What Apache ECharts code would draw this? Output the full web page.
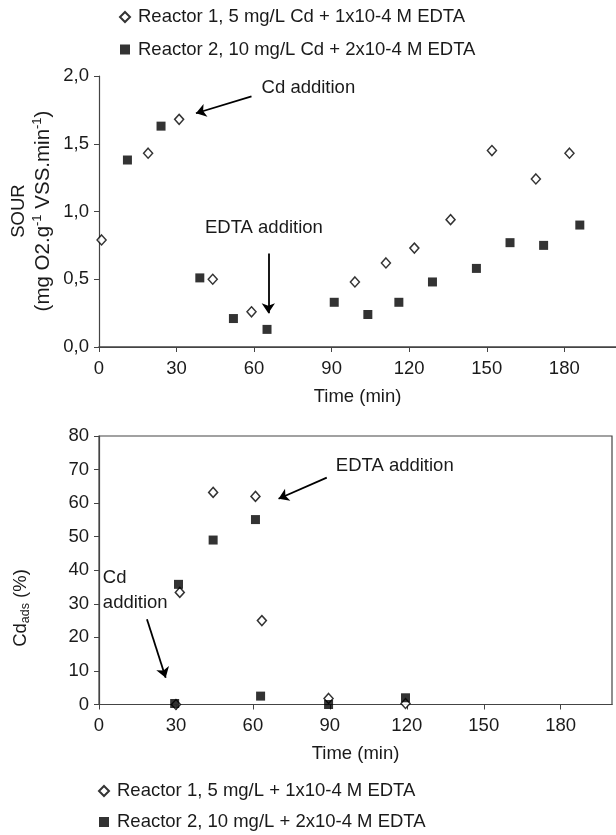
<!DOCTYPE html>
<html>
<head>
<meta charset="utf-8">
<script src="https://cdn.jsdelivr.net/npm/echarts@6/dist/echarts.min.js"></script>
<style>html,body{margin:0;padding:0;background:#fff}#c{width:616px;height:835px}</style>
</head>
<body>
<div id="c"></div>
<script>
// ---------- data ----------
const timeTicks = [0, 30, 60, 90, 120, 150, 180];
const sourTicks = [0, 0.5, 1.0, 1.5, 2.0];
const cdTicks = [0, 10, 20, 30, 40, 50, 60, 70, 80];

const sourR1Time = [1, 19, 31, 44, 59, 99, 111, 122, 136, 152, 169, 182];
const sourR1 = [0.79, 1.43, 1.68, 0.50, 0.26, 0.48, 0.62, 0.73, 0.94, 1.45, 1.24, 1.43];
const sourR2Time = [11, 24, 39, 52, 65, 91, 104, 116, 129, 146, 159, 172, 186];
const sourR2 = [1.38, 1.63, 0.51, 0.21, 0.13, 0.33, 0.24, 0.33, 0.48, 0.58, 0.77, 0.75, 0.90];

const cdR1Time = [30, 31.5, 44.5, 61, 63.5, 89.5, 119.5];
const cdR1 = [0, 33.4, 63.2, 62, 25, 1.8, 0.3];
const cdR2Time = [29.5, 31, 44.5, 61, 63, 89.5, 119.5];
const cdR2 = [0.3, 35.8, 49, 55.1, 2.5, 0, 2];

const topNames = ['Reactor 1, 5 mg/L Cd + 1x10-4 M EDTA', 'Reactor 2, 10 mg/L Cd + 2x10-4 M EDTA'];
const botNames = ['Reactor 1, 5 mg/L + 1x10-4 M EDTA', 'Reactor 2, 10 mg/L + 2x10-4 M EDTA'];

// annotations (data coordinates)
const topCdText = ['Cd addition', 81, 1.91];
const topCdArrow = [[59, 1.85], [37.5, 1.725]];
const topEdtaText = ['EDTA addition', 63.8, 0.88];
const topEdtaArrow = [[65.5, 0.69], [65.5, 0.25]];
const botEdtaText = ['EDTA addition', 115.3, 71.2];
const botEdtaArrow = [[88.8, 67.6], [70, 61.3]];
const botCdText = ['Cd\naddition', 1.5, 34.1];
const botCdArrow = [[18.7, 25.4], [26, 8]];

// ---------- chart ----------
const FONT = "'Liberation Sans', Arial, sans-serif";
const FS = 18.5;
const AX = '#444';
const TXT = '#1a1a1a';
const chart = echarts.init(document.getElementById('c'), null, {renderer: 'canvas'});

const pairs = (xs, ys) => xs.map((x, i) => [x, ys[i]]);
const comma = v => v.toFixed(1).replace('.', ',');

function xAxisCfg(gi) {
  return {
    type: 'value', gridIndex: gi, min: 0, max: 200,
    axisLine: {show: true, onZero: false, lineStyle: {color: AX, width: 1.2}},
    axisTick: {show: true, length: 5, customValues: timeTicks, lineStyle: {color: AX}},
    axisLabel: {customValues: timeTicks, color: TXT, fontFamily: FONT, fontSize: FS, margin: 12},
    splitLine: {show: false},
    name: 'Time (min)', nameLocation: 'middle', nameGap: 40,
    nameTextStyle: {color: TXT, fontFamily: FONT, fontSize: FS}
  };
}

function arrow(pts) {
  return [{coord: pts[0]}, {coord: pts[1]}];
}
function textPoint(t, align) {
  return {
    coord: [t[1], t[2]], value: t[0],
    label: {show: true, position: 'inside', formatter: t[0], align: align || 'center',
      color: TXT, fontFamily: FONT, fontSize: FS, lineHeight: 25}
  };
}
const markLineBase = {
  silent: true, symbol: ['none', 'arrow'], symbolSize: 10,
  itemStyle: {color: '#000'},
  lineStyle: {color: '#000', width: 1.8, type: 'solid'},
  label: {show: false}, emphasis: {disabled: true}, animation: false
};
const markPointBase = {
  silent: true, symbol: 'circle', symbolSize: 1,
  itemStyle: {color: 'transparent'}, animation: false
};
const legendText = {fontFamily: FONT, fontSize: FS, color: TXT, lineHeight: 20, padding: [0, 0, 0, 3]};

const option = {
  animation: false,
  backgroundColor: '#fff',
  textStyle: {fontFamily: FONT},
  legend: [
    {
      data: topNames, orient: 'vertical', left: 119, top: 7, padding: 0,
      itemWidth: 10, itemHeight: 10, itemGap: 12.5,
      textStyle: legendText, selectedMode: false
    },
    {
      data: botNames, orient: 'vertical', left: 98, top: 781, padding: 0,
      itemWidth: 10, itemHeight: 10, itemGap: 11,
      textStyle: legendText, selectedMode: false
    }
  ],
  grid: [
    {left: 99, top: 76, width: 517, height: 271, show: false},
    {left: 99, top: 436, width: 513, height: 268.5, show: true, borderColor: AX, borderWidth: 1.2, backgroundColor: 'transparent'}
  ],
  xAxis: [
    xAxisCfg(0),
    xAxisCfg(1),
    {type: 'value', gridIndex: 0, position: 'top', min: 0, max: 200,
      axisLine: {show: true, lineStyle: {color: AX, width: 1.6}}, axisTick: {show: false},
      axisLabel: {show: false}, splitLine: {show: false}}
  ],
  yAxis: [
    {
      type: 'value', gridIndex: 0, min: 0, max: 2, interval: 0.5,
      axisLine: {show: true, lineStyle: {color: AX, width: 1.2}},
      axisTick: {show: true, length: 5, lineStyle: {color: AX}},
      axisLabel: {formatter: comma, color: TXT, fontFamily: FONT, fontSize: FS, margin: 10},
      splitLine: {show: false}
    },
    {
      type: 'value', gridIndex: 1, min: 0, max: 80, interval: 10,
      axisLine: {show: true, lineStyle: {color: AX, width: 1.2}},
      axisTick: {show: true, length: 5, lineStyle: {color: AX}},
      axisLabel: {color: TXT, fontFamily: FONT, fontSize: FS, margin: 10},
      splitLine: {show: false}
    }
  ],
  graphic: [
    {
      type: 'text', x: 31, y: 211, rotation: Math.PI / 2, silent: true,
      style: {
        text: 'SOUR\n{big|(mg O2.g}{sup|-1}{big| VSS.min}{sup|-1}{big|)}',
        fontFamily: FONT, fontSize: FS, fill: TXT, align: 'center', verticalAlign: 'middle',
        lineHeight: 25,
        rich: {
          big: {fontSize: 20.5, fontFamily: FONT, fill: TXT, lineHeight: 25},
          sup: {fontSize: 13, fontFamily: FONT, fill: TXT, verticalAlign: 'top', lineHeight: 13}
        }
      }
    },
    {
      type: 'text', x: 21, y: 608, rotation: Math.PI / 2, silent: true,
      style: {
        text: 'Cd{sub|ads} (%)',
        fontFamily: FONT, fontSize: FS, fill: TXT, align: 'center', verticalAlign: 'middle',
        lineHeight: 22,
        rich: {sub: {fontSize: 12.5, fontFamily: FONT, fill: TXT, verticalAlign: 'bottom', lineHeight: 12}}
      }
    }
  ],
  series: [
    {
      name: topNames[0], type: 'scatter', xAxisIndex: 0, yAxisIndex: 0,
      data: pairs(sourR1Time, sourR1), symbol: 'diamond', symbolSize: [9, 10], symbolKeepAspect: true,
      itemStyle: {color: '#fff', borderColor: '#000', borderWidth: 1.5},
      markLine: Object.assign({}, markLineBase, {data: [arrow(topCdArrow), arrow(topEdtaArrow)]}),
      markPoint: Object.assign({}, markPointBase, {data: [textPoint(topCdText), textPoint(topEdtaText)]})
    },
    {
      name: topNames[1], type: 'scatter', xAxisIndex: 0, yAxisIndex: 0,
      data: pairs(sourR2Time, sourR2), symbol: 'rect', symbolSize: 9, symbolKeepAspect: true,
      itemStyle: {color: '#000'}
    },
    {
      name: botNames[0], type: 'scatter', xAxisIndex: 1, yAxisIndex: 1,
      data: pairs(cdR1Time, cdR1), symbol: 'diamond', symbolSize: [9, 10], symbolKeepAspect: true,
      itemStyle: {color: '#fff', borderColor: '#000', borderWidth: 1.5},
      markLine: Object.assign({}, markLineBase, {data: [arrow(botEdtaArrow), arrow(botCdArrow)]}),
      markPoint: Object.assign({}, markPointBase, {data: [textPoint(botEdtaText), textPoint(botCdText, 'left')]})
    },
    {
      name: botNames[1], type: 'scatter', xAxisIndex: 1, yAxisIndex: 1,
      data: pairs(cdR2Time, cdR2), symbol: 'rect', symbolSize: 9, symbolKeepAspect: true,
      itemStyle: {color: '#000'}
    }
  ]
};
chart.setOption(option);
</script>
</body>
</html>
